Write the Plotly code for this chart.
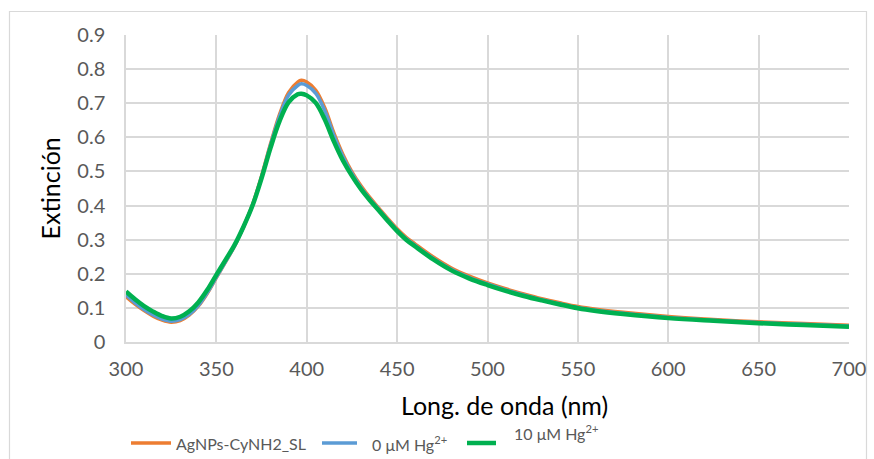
import plotly.graph_objects as go

wavelength = [300, 305, 310, 315, 320, 325, 330, 335, 340, 345, 350, 355, 360, 365, 370, 375, 380, 385, 390, 395, 397,
              400, 405, 410, 415, 420, 425, 430, 435, 440, 445, 450, 455, 460, 470, 480, 490, 500, 510, 520, 530, 540,
              550, 560, 575, 600, 625, 650, 675, 700]

agnps = [0.133, 0.111, 0.092, 0.076, 0.064, 0.058, 0.063, 0.079, 0.105, 0.143, 0.189, 0.234, 0.281, 0.338, 0.403,
         0.487, 0.582, 0.668, 0.732, 0.762, 0.767, 0.762, 0.738, 0.686, 0.613, 0.550, 0.499, 0.458, 0.423, 0.392,
         0.361, 0.332, 0.307, 0.287, 0.249, 0.217, 0.193, 0.173, 0.156, 0.141, 0.127, 0.115, 0.104, 0.096, 0.087,
         0.075, 0.066, 0.059, 0.054, 0.049]

hg0 = [0.138, 0.115, 0.095, 0.079, 0.067, 0.061, 0.066, 0.081, 0.107, 0.145, 0.190, 0.235, 0.281, 0.337, 0.401,
       0.484, 0.578, 0.662, 0.724, 0.752, 0.757, 0.752, 0.729, 0.678, 0.606, 0.544, 0.494, 0.453, 0.419, 0.388,
       0.357, 0.328, 0.303, 0.283, 0.245, 0.213, 0.189, 0.170, 0.153, 0.138, 0.124, 0.112, 0.101, 0.093, 0.084,
       0.072, 0.064, 0.057, 0.052, 0.047]

hg10 = [0.148, 0.125, 0.105, 0.089, 0.076, 0.069, 0.074, 0.090, 0.116, 0.153, 0.197, 0.240, 0.284, 0.338, 0.400,
        0.480, 0.570, 0.648, 0.703, 0.726, 0.728, 0.723, 0.701, 0.652, 0.588, 0.532, 0.487, 0.448, 0.415, 0.385,
        0.354, 0.325, 0.300, 0.280, 0.242, 0.210, 0.186, 0.167, 0.150, 0.135, 0.122, 0.110, 0.099, 0.091, 0.082,
        0.070, 0.062, 0.055, 0.050, 0.045]

series_names = ["AgNPs-CyNH2_SL", "0 μM Hg<sup>2+</sup>", "10 μM Hg<sup>2+</sup>"]
x_ticks = [300, 350, 400, 450, 500, 550, 600, 650, 700]
y_ticks = [0, 0.1, 0.2, 0.3, 0.4, 0.5, 0.6, 0.7, 0.8, 0.9]
y_tick_text = ["0", "0.1", "0.2", "0.3", "0.4", "0.5", "0.6", "0.7", "0.8", "0.9"]
x_title = "Long. de onda (nm)"
y_title = "Extinción"

FONT = "Lato, 'Open Sans', sans-serif"

colors = ["#ED7D31", "#5B9BD5", "#00B050"]
widths = [3.5, 3.5, 4.5]

W, H = 874, 459
L, R, T, B = 126, 25, 35, 117
pw = W - L - R
ph = H - T - B


def px_x(p):
    return (p - L) / pw


def px_y(p):
    return (H - B - p) / ph


fig = go.Figure()
for name, vals, color, width in zip(series_names, [agnps, hg0, hg10], colors, widths):
    fig.add_trace(go.Scatter(
        x=wavelength, y=vals, mode="lines", name=name, showlegend=False,
        line=dict(color=color, width=width, shape="spline", smoothing=1.0),
    ))

# manual legend (pixel layout of the reference)
legend_lines = [(131, 171, 443), (322, 357, 443), (467, 496, 443)]
legend_text = [(174, 443), (370, 443), (512, 432)]

shapes = [dict(
    type="rect", xref="paper", yref="paper",
    x0=px_x(9.5), x1=px_x(866.5), y0=px_y(475), y1=px_y(11.5),
    line=dict(color="#D9D9D9", width=1.2), fillcolor="rgba(0,0,0,0)", layer="below",
)]
annotations = []
for (x0, x1, y), color, width in zip(legend_lines, colors, widths):
    shapes.append(dict(type="line", xref="paper", yref="paper",
                       x0=px_x(x0), x1=px_x(x1), y0=px_y(y), y1=px_y(y),
                       line=dict(color=color, width=width)))
for (x, y), name in zip(legend_text, series_names):
    annotations.append(dict(text=name, xref="paper", yref="paper", x=px_x(x), y=px_y(y),
                            xanchor="left", yanchor="middle", showarrow=False,
                            font=dict(family=FONT, size=16, color="#595959")))

annotations.append(dict(text=x_title, xref="paper", yref="paper", x=px_x(504), y=px_y(405),
                        xanchor="center", yanchor="middle", showarrow=False,
                        font=dict(family=FONT, size=25, color="#000000")))
annotations.append(dict(text=y_title, xref="paper", yref="paper", x=px_x(49), y=0.5, textangle=-90,
                        xanchor="center", yanchor="middle", showarrow=False,
                        font=dict(family=FONT, size=25, color="#000000")))

fig.update_layout(
    width=W, height=H,
    margin=dict(l=L, r=R, t=T, b=B, pad=0, autoexpand=False),
    paper_bgcolor="white", plot_bgcolor="white",
    font=dict(family=FONT, size=20, color="#595959"),
    showlegend=False,
    xaxis=dict(
        range=[300, 700], tickvals=x_ticks, ticktext=[str(v) for v in x_ticks],
        showgrid=True, gridcolor="#D9D9D9", gridwidth=1.5,
        showline=True, linecolor="#D9D9D9", linewidth=1.5,
        zeroline=False, ticks="", ticklabelstandoff=8, automargin=False,
        tickfont=dict(family=FONT, size=20, color="#595959"),
    ),
    yaxis=dict(
        range=[0, 0.9], tickvals=y_ticks, ticktext=y_tick_text,
        showgrid=True, gridcolor="#D9D9D9", gridwidth=1.5,
        showline=True, linecolor="#D9D9D9", linewidth=1.5,
        zeroline=False, ticks="", ticklabelstandoff=15, automargin=False,
        tickfont=dict(family=FONT, size=20, color="#595959"),
    ),
    shapes=shapes,
    annotations=annotations,
)

fig.write_html("out.html")
